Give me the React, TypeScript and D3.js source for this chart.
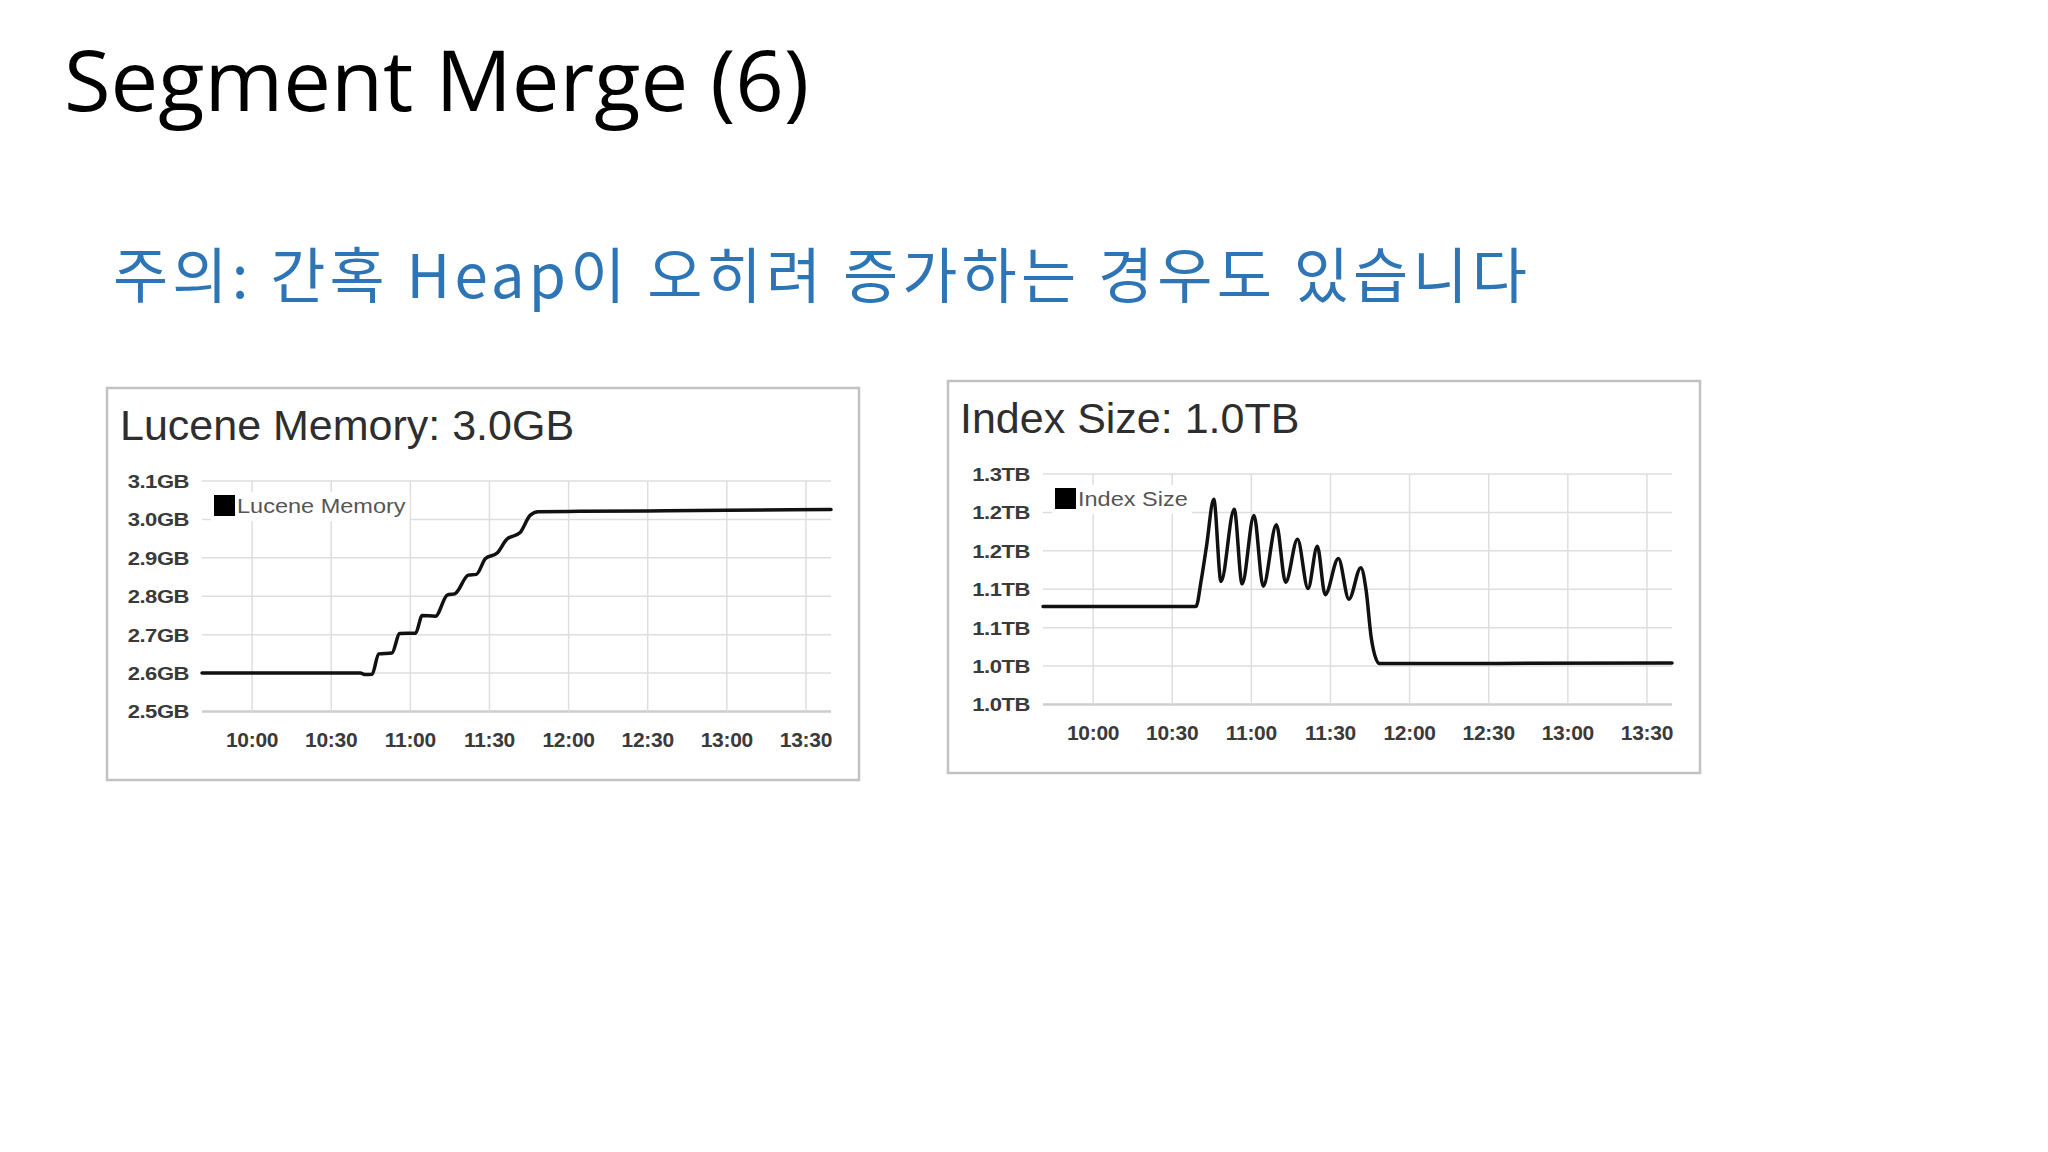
import React, { useEffect, useRef } from 'react';
import * as d3 from 'd3';

const SLIDE_TITLE = 'Segment Merge (6)';
const SLIDE_NOTE = '주의: 간혹 Heap이 오히려 증가하는 경우도 있습니다';

// shared time axis
const timeTicks = ['10:00', '10:30', '11:00', '11:30', '12:00', '12:30', '13:00', '13:30'];
const timeStart = '09:41';
const timeEnd = '13:39:30';

// Lucene Memory (GB)
const memoryTimes = [
  '09:41', '10:41', '10:43', '10:45:30', '10:48', '10:53', '10:56', '11:02',
  '11:04:30', '11:09:30', '11:14', '11:17', '11:22', '11:25', '11:28:30', '11:33',
  '11:36:30', '11:41:30', '11:45:30', '11:48:30', '12:04', '12:30', '13:00', '13:39:30',
];
const memoryValues = [
  2.6, 2.6, 2.596, 2.597, 2.65, 2.652, 2.703, 2.704,
  2.75, 2.748, 2.803, 2.807, 2.855, 2.857, 2.898, 2.913,
  2.948, 2.965, 3.011, 3.02, 3.021, 3.022, 3.024, 3.026,
];
const memoryTicks = [2.5, 2.6, 2.7, 2.8, 2.9, 3.0, 3.1];
const memoryTickLabels = ['2.5GB', '2.6GB', '2.7GB', '2.8GB', '2.9GB', '3.0GB', '3.1GB'];

// Index Size (TB)
const indexTimes = [
  '09:41', '10:39', '10:41', '10:43', '10:45:45', '10:48:30', '10:53:30', '10:56:30',
  '11:01', '11:04:30', '11:09:30', '11:13', '11:17:30', '11:21:30', '11:25', '11:28',
  '11:33', '11:37', '11:41:30', '11:43:30', '11:45:30', '11:48:30', '12:30', '13:39:30',
];
const indexValues = [
  1.1274, 1.1274, 1.162, 1.206, 1.267, 1.16, 1.254, 1.157,
  1.246, 1.154, 1.234, 1.159, 1.215, 1.151, 1.206, 1.143,
  1.19, 1.137, 1.178, 1.149, 1.086, 1.0535, 1.0535, 1.054,
];
const indexTicks = [1.0, 1.05, 1.1, 1.15, 1.2, 1.25, 1.3];
const indexTickLabels = ['1.0TB', '1.0TB', '1.1TB', '1.1TB', '1.2TB', '1.2TB', '1.3TB'];

const PANEL_W = 752;
const PANEL_H = 392;
const PLOT = { left: 95, right: 724, top: 93, bottom: 323.5 };
const CHART_FONT = '"Liberation Sans", Arial, Helvetica, sans-serif';

const parseHMS = d3.timeParse('%H:%M:%S');
const toDate = (s: string) => parseHMS(s.length === 5 ? s + ':00' : s) as Date;

type PanelConfig = {
  x: number;
  y: number;
  titleX: number;
  title: string;
  legend: string;
  times: string[];
  values: number[];
  ticks: number[];
  tickLabels: string[];
};

function drawPanel(root: d3.Selection<SVGSVGElement, unknown, null, undefined>, cfg: PanelConfig) {
  const g = root.append('g').attr('transform', `translate(${cfg.x},${cfg.y})`);

  g.append('rect')
    .attr('width', PANEL_W)
    .attr('height', PANEL_H)
    .attr('fill', '#fff')
    .attr('stroke', '#c2c2c2')
    .attr('stroke-width', 2.5);

  g.append('text')
    .attr('x', cfg.titleX)
    .attr('y', 52)
    .attr('font-family', CHART_FONT)
    .attr('font-size', 43)
    .attr('fill', '#2e2e2e')
    .text(cfg.title);

  const xScale = d3
    .scaleTime()
    .domain([toDate(timeStart), toDate(timeEnd)])
    .range([PLOT.left, PLOT.right]);
  const yScale = d3
    .scaleLinear()
    .domain(d3.extent(cfg.ticks) as [number, number])
    .range([PLOT.bottom, PLOT.top]);

  // grid
  g.append('g')
    .selectAll('line')
    .data(cfg.ticks)
    .join('line')
    .attr('x1', PLOT.left)
    .attr('x2', PLOT.right)
    .attr('y1', (d) => yScale(d))
    .attr('y2', (d) => yScale(d))
    .attr('stroke', (d, i) => (i === 0 ? '#cdcdcd' : '#dedede'))
    .attr('stroke-width', (d, i) => (i === 0 ? 2.5 : 1.5));

  g.append('g')
    .selectAll('line')
    .data(timeTicks)
    .join('line')
    .attr('x1', (d) => xScale(toDate(d)))
    .attr('x2', (d) => xScale(toDate(d)))
    .attr('y1', PLOT.top)
    .attr('y2', PLOT.bottom)
    .attr('stroke', '#dedede')
    .attr('stroke-width', 1.5);

  // y labels (the source chart is slightly stretched sideways)
  g.append('g')
    .selectAll('text')
    .data(cfg.ticks)
    .join('text')
    .attr('transform', (d) => `translate(82,${yScale(d)}) scale(1.16,1)`)
    .attr('dy', '0.36em')
    .attr('text-anchor', 'end')
    .attr('font-family', CHART_FONT)
    .attr('font-weight', 'bold')
    .attr('font-size', 19)
    .attr('letter-spacing', -0.4)
    .attr('fill', '#3a3a3a')
    .text((d, i) => cfg.tickLabels[i]);

  // x labels
  g.append('g')
    .selectAll('text')
    .data(timeTicks)
    .join('text')
    .attr('x', (d) => xScale(toDate(d)))
    .attr('y', 359)
    .attr('text-anchor', 'middle')
    .attr('font-family', CHART_FONT)
    .attr('font-weight', 'bold')
    .attr('font-size', 21)
    .attr('letter-spacing', -0.3)
    .attr('fill', '#3a3a3a')
    .text((d) => d);

  // legend
  const legend = g.append('g');
  const legendBg = legend.append('rect').attr('fill', '#fff');
  legend
    .append('rect')
    .attr('x', 107)
    .attr('y', 107)
    .attr('width', 21)
    .attr('height', 21)
    .attr('fill', '#000');
  const legendText = legend
    .append('text')
    .attr('transform', 'translate(130,125) scale(1.12,1)')
    .attr('font-family', CHART_FONT)
    .attr('font-size', 21)
    .attr('fill', '#555')
    .text(cfg.legend);
  const textW = (legendText.node() as SVGTextElement).getComputedTextLength() * 1.12;
  legendBg
    .attr('x', 104)
    .attr('y', 104)
    .attr('width', 130 + textW + 4 - 104)
    .attr('height', 29);

  // series
  const pts = cfg.times.map((t, i) => [toDate(t), cfg.values[i]] as [Date, number]);
  const line = d3
    .line<[Date, number]>()
    .x((d) => xScale(d[0]))
    .y((d) => yScale(d[1]))
    .curve(d3.curveMonotoneX);

  g.append('path')
    .datum(pts)
    .attr('fill', 'none')
    .attr('stroke', '#111')
    .attr('stroke-width', 3.5)
    .attr('stroke-linejoin', 'round')
    .attr('stroke-linecap', 'round')
    .attr('d', line);
}

export default function App() {
  const svgRef = useRef<SVGSVGElement>(null);

  useEffect(() => {
    if (!svgRef.current) return;
    const svg = d3.select(svgRef.current);
    svg.selectAll('*').remove();

    svg.append('rect').attr('width', 2048).attr('height', 1152).attr('fill', '#fff');

    svg
      .append('text')
      .attr('x', 64)
      .attr('y', 111)
      .attr('font-family', '"Open Sans", "Noto Sans", sans-serif')
      .attr('font-size', 85)
      .attr('fill', '#000')
      .text(SLIDE_TITLE);

    svg
      .append('text')
      .attr('x', 113)
      .attr('y', 298)
      .attr('font-family', '"Noto Sans CJK KR", "Noto Sans", sans-serif')
      .attr('font-size', 60)
      .attr('fill', '#2E75B6')
      .attr('textLength', 1414)
      .attr('lengthAdjust', 'spacing')
      .text(SLIDE_NOTE);

    drawPanel(svg, {
      x: 107,
      y: 388,
      titleX: 13,
      title: 'Lucene Memory: 3.0GB',
      legend: 'Lucene Memory',
      times: memoryTimes,
      values: memoryValues,
      ticks: memoryTicks,
      tickLabels: memoryTickLabels,
    });

    drawPanel(svg, {
      x: 948,
      y: 381,
      titleX: 12,
      title: 'Index Size: 1.0TB',
      legend: 'Index Size',
      times: indexTimes,
      values: indexValues,
      ticks: indexTicks,
      tickLabels: indexTickLabels,
    });
  }, []);

  return (
    <svg
      ref={svgRef}
      width={2048}
      height={1152}
      style={{ position: 'absolute', left: 0, top: 0, display: 'block' }}
    />
  );
}
